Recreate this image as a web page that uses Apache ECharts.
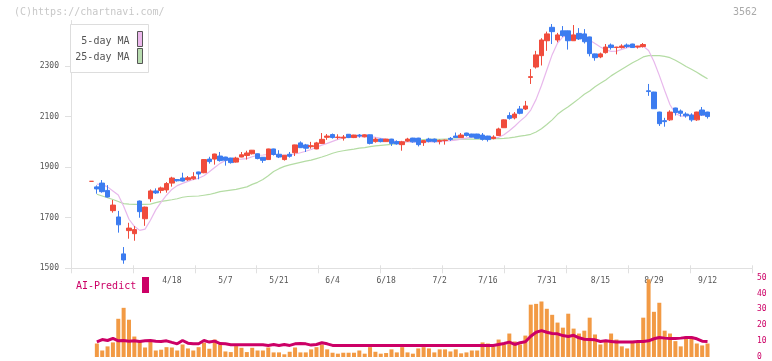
<!DOCTYPE html>
<html><head><meta charset="utf-8">
<script src="https://cdn.jsdelivr.net/npm/echarts@6/dist/echarts.min.js"></script>
<style>html,body{margin:0;padding:0;background:#fff}#c{width:772px;height:361px}</style>
</head><body><div id="c"></div>
<script>
const dates = ['3/28','3/29','4/1','4/2','4/3','4/4','4/5','4/8','4/9','4/10','4/11','4/12','4/15','4/16','4/17','4/18','4/19','4/22','4/23','4/24','4/25','4/26','4/30','5/1','5/2','5/7','5/8','5/9','5/10','5/13','5/14','5/15','5/16','5/17','5/20','5/21','5/22','5/23','5/24','5/27','5/28','5/29','5/30','5/31','6/3','6/4','6/5','6/6','6/7','6/10','6/11','6/12','6/13','6/14','6/17','6/18','6/19','6/20','6/21','6/24','6/25','6/26','6/27','6/28','7/1','7/2','7/3','7/4','7/5','7/8','7/9','7/10','7/11','7/12','7/16','7/17','7/18','7/19','7/22','7/23','7/24','7/25','7/26','7/29','7/30','7/31','8/1','8/2','8/5','8/6','8/7','8/8','8/9','8/13','8/14','8/15','8/16','8/19','8/20','8/21','8/22','8/23','8/26','8/27','8/28','8/29','8/30','9/2','9/3','9/4','9/5','9/6','9/9','9/10','9/11','9/12'];
const tickLabels = ['4/18','5/7','5/21','6/4','6/18','7/2','7/16','7/31','8/15','8/29','9/12'];
const openP = [1844,1822,1837,1808,1728,1703,1557,1649,1637,1766,1696,1775,1806,1808,1810,1837,1851,1857,1850,1854,1881,1878,1932,1932,1944,1940,1936,1920,1940,1946,1953,1953,1939,1930,1972,1951,1930,1951,1957,1996,1988,1981,1972,1994,2018,2029,2017,2015,2030,2017,2027,2020,2028,2001,2011,2001,2011,2001,1989,2003,2015,2015,1997,2011,2011,2002,2005,2014,2023,2017,2035,2031,2031,2027,2023,2013,2025,2056,2104,2095,2130,2130,2255,2296,2341,2400,2453,2403,2439,2439,2400,2429,2427,2415,2348,2336,2353,2383,2373,2373,2383,2387,2375,2377,2202,2197,2118,2084,2087,2134,2122,2110,2106,2087,2126,2118];
const closeP = [1844,1814,1803,1782,1750,1672,1533,1659,1653,1724,1742,1806,1798,1818,1835,1857,1846,1845,1858,1862,1873,1930,1922,1952,1926,1927,1918,1936,1949,1956,1967,1934,1927,1972,1950,1940,1947,1943,1988,1977,1975,1985,1996,2010,2023,2017,2019,2019,2017,2027,2023,2028,1994,2011,2001,2011,1994,1992,2000,2011,2000,1989,2005,2002,2001,2006,2007,2010,2017,2027,2025,2019,2014,2010,2009,2019,2051,2087,2093,2110,2113,2142,2258,2344,2403,2427,2436,2423,2420,2400,2423,2407,2396,2349,2333,2348,2375,2373,2375,2379,2377,2373,2379,2385,2199,2131,2072,2080,2118,2116,2113,2103,2087,2118,2106,2100];
const lowP = [1844,1795,1799,1780,1720,1641,1518,1617,1609,1700,1668,1763,1794,1797,1799,1823,1843,1843,1846,1850,1852,1876,1914,1910,1922,1906,1914,1918,1939,1930,1950,1931,1917,1929,1946,1936,1926,1938,1944,1976,1960,1973,1971,1992,2008,2013,2010,2005,2015,2015,2017,2018,1990,1997,1998,2000,1984,1989,1965,2000,1997,1982,1984,1998,1997,1990,1989,2004,2016,2016,2021,2018,2013,2005,2001,2010,2024,2055,2088,2089,2109,2126,2229,2290,2302,2360,2387,2394,2415,2365,2399,2403,2389,2338,2321,2331,2349,2365,2346,2369,2371,2372,2369,2373,2182,2131,2063,2060,2083,2104,2100,2096,2080,2083,2103,2092];
const highP = [1844,1828,1849,1829,1770,1727,1584,1680,1667,1768,1744,1812,1816,1823,1841,1862,1853,1878,1865,1880,1882,1932,1941,1953,1960,1941,1937,1941,1960,1965,1968,1954,1940,1973,1973,1967,1948,1960,1989,2002,1992,2000,2000,2035,2031,2033,2030,2027,2031,2028,2031,2030,2029,2017,2013,2012,2012,2006,2004,2016,2016,2016,2007,2016,2013,2009,2009,2019,2037,2035,2036,2032,2032,2035,2024,2026,2056,2089,2117,2118,2142,2162,2288,2360,2410,2436,2466,2431,2458,2440,2462,2450,2446,2416,2349,2353,2387,2389,2376,2386,2389,2388,2380,2391,2229,2198,2119,2095,2125,2135,2128,2117,2113,2119,2138,2119];
const ma5 = [null,1833,1831,1822,1806,1790,1745,1694,1666,1650,1655,1690,1731,1762,1789,1812,1827,1836,1844,1851,1856,1866,1882,1899,1915,1926,1930,1931,1932,1934,1941,1947,1948,1950,1952,1948,1947,1949,1952,1957,1963,1970,1979,1987,1994,2002,2010,2016,2019,2020,2021,2022,2021,2018,2014,2010,2006,2002,2001,2000,2000,1999,2000,2001,2000,2000,2003,2005,2007,2011,2015,2019,2020,2020,2017,2015,2018,2028,2044,2062,2082,2100,2126,2168,2223,2284,2345,2391,2415,2422,2421,2418,2412,2402,2389,2375,2364,2358,2359,2366,2373,2376,2376,2378,2361,2318,2263,2203,2147,2112,2102,2103,2107,2107,2106,2104];
const ma25 = [null,1793,1786,1779,1772,1764,1756,1754,1753,1753,1753,1754,1760,1765,1768,1771,1775,1781,1784,1785,1786,1789,1792,1797,1803,1806,1809,1812,1817,1822,1832,1840,1851,1866,1883,1894,1903,1909,1914,1919,1924,1928,1934,1940,1947,1955,1961,1965,1968,1971,1975,1977,1981,1984,1986,1988,1990,1994,1998,2002,2005,2007,2009,2010,2010,2010,2011,2011,2011,2011,2011,2011,2011,2011,2011,2013,2013,2014,2016,2019,2023,2026,2030,2039,2052,2069,2087,2109,2125,2139,2155,2171,2188,2201,2218,2232,2245,2261,2274,2287,2300,2313,2324,2336,2341,2341,2341,2338,2333,2323,2311,2298,2287,2275,2262,2250];
const volume = [null,8.5,4.1,6.7,9.2,24.1,31,23.5,12.9,10.4,6,9.6,4.1,4.6,6.2,6,4.1,7.9,5.4,4.1,6.2,9,5.2,11,7.9,3.5,3.1,6.9,5.8,3.1,5.8,4.1,4.1,6,2.9,2.9,1.7,3.3,6,2.9,2.9,4.8,6.2,7.9,4.8,2.7,2.1,2.7,2.7,2.7,4.1,2.1,6.2,3.3,2.1,2.5,4.8,2.9,6.2,2.9,2.1,5.4,6.2,5.4,2.9,4.8,4.8,3.5,4.8,2.3,2.9,4.1,4.1,9.2,8.5,6.7,11,7.9,14.8,9.8,7.9,13.5,33,33.5,35,30.4,26.6,21.7,18.5,27.3,17.9,14.8,16.6,24.8,14.2,7.9,10.4,14.8,11,6.7,5.4,10.2,9.2,24.8,49,28.5,34.2,16.6,14.8,10,6.7,12.9,12.9,8.5,7.3,8.5];
const aiPredict = [null,9.6,11,10.4,11.7,10.2,10.4,10,10.2,9.8,10.2,10.4,10,9.8,10.2,9.2,8.3,10.4,8.7,8.3,8.3,10.4,9.4,10,8.5,8.3,7.7,7.7,7.7,7.7,7.7,7.7,7.7,7.3,7.9,7.3,7.9,7.3,8.3,8.5,8.3,7.5,7.9,9,8.3,7.3,7.3,7.3,7.3,7.3,7.3,7.3,7.3,7.3,7.3,7.3,7.3,7.3,7.3,7.3,7.3,7.3,7.3,7.3,7.3,7.3,7.3,7.3,7.3,7.3,7.3,7.3,7.3,7.3,7.3,7.3,7.9,8.5,9.4,7.9,9,9.6,13.1,15.6,16.6,15.6,14.8,14.6,13.5,12.9,13.7,12.1,11.2,11,10.8,9.8,10.2,9.8,9.4,9.4,9.4,9.4,9.8,9.8,10.2,11.5,12.3,11.9,11.7,11.7,11.9,12.3,12.3,11.5,10,9.8];

const PADL = 3, PADR = 8;
const cats = [];
for (let i = 0; i < PADL; i++) cats.push('padL' + i);
dates.forEach(d => cats.push(d));
for (let i = 0; i < PADR; i++) cats.push('padR' + i);

const candleData = dates.map((d, j) => [j + PADL, openP[j], closeP[j], lowP[j], highP[j]]);
const pair = arr => arr.map((v, j) => [j + PADL, v == null ? '-' : v]);

const FONT = 'DejaVu Sans Mono';
const UP = '#f04c3c', DOWN = '#3c7cf0';
const AXC = '#e0e0e0';
const CRIMSON = '#cc0066';

const chart = echarts.init(document.getElementById('c'), null, {renderer: 'canvas'});
chart.setOption({
  animation: false,
  backgroundColor: '#fff',
  textStyle: {fontFamily: FONT},
  grid: [
    {left: 71, right: 20, top: 20.5, bottom: 92.7},
    {left: 72.75, width: 680.3, top: 20.5, bottom: 92.7},
    {left: 72.75, width: 680.3, top: 277.7, height: 80}
  ],
  xAxis: [
    {gridIndex: 0, type: 'value', min: 0, max: 11, interval: 1, position: 'bottom',
     axisLine: {show: true, onZero: false, lineStyle: {color: AXC}},
     axisTick: {show: true, length: 5, lineStyle: {color: AXC}},
     axisLabel: {show: false}, splitLine: {show: false}},
    {gridIndex: 0, type: 'value', min: 0, max: 11, interval: 1, position: 'bottom', offset: 0,
     axisLine: {show: false},
     axisTick: {show: true, inside: true, length: 3, lineStyle: {color: AXC}},
     axisLabel: {show: false}, splitLine: {show: false}},
    {gridIndex: 1, type: 'category', data: cats, boundaryGap: true, position: 'bottom',
     axisLine: {show: false}, axisTick: {show: false}, splitLine: {show: false},
     axisLabel: {show: true, margin: 9, color: '#555', fontSize: 8, fontFamily: FONT,
       interval: (idx, val) => tickLabels.indexOf(val) >= 0,
       formatter: v => tickLabels.indexOf(v) >= 0 ? v : ''}},
    {gridIndex: 2, type: 'category', data: cats, boundaryGap: true, show: false}
  ],
  yAxis: [
    {gridIndex: 0, type: 'value', min: 1500, max: 2480, interval: 200,
     axisLine: {show: true, onZero: false, lineStyle: {color: AXC}},
     axisTick: {show: true, length: 6, lineStyle: {color: AXC}},
     axisLabel: {color: '#555', fontSize: 8, fontFamily: FONT, margin: 12,
       showMaxLabel: false, formatter: v => String(v)},
     splitLine: {show: false}},
    {gridIndex: 1, type: 'value', min: 1500, max: 2480, show: false, splitLine: {show: false}},
    {gridIndex: 2, type: 'value', min: 0, max: 50, interval: 10, position: 'right',
     axisLine: {show: false}, axisTick: {show: false}, splitLine: {show: false},
     axisLabel: {color: CRIMSON, fontSize: 8, fontFamily: FONT, margin: 4, formatter: v => String(v)}}
  ],
  series: [
    {type: 'line', name: '25-day MA', xAxisIndex: 2, yAxisIndex: 1, data: pair(ma25),
     symbol: 'none', z: 1, lineStyle: {color: '#b4dca4', width: 1.2}},
    {type: 'line', name: '5-day MA', xAxisIndex: 2, yAxisIndex: 1, data: pair(ma5),
     symbol: 'none', z: 1, lineStyle: {color: '#e8b8ec', width: 1.2}},
    {type: 'candlestick', xAxisIndex: 2, yAxisIndex: 1, data: candleData,
     encode: {x: 0, y: [1, 2, 3, 4]}, barWidth: 5, z: 3,
     itemStyle: {color: UP, color0: DOWN, borderColor: UP, borderColor0: DOWN,
       borderColorDoji: UP, borderWidth: 1}},
    {type: 'bar', xAxisIndex: 3, yAxisIndex: 2, data: pair(volume), barWidth: 4,
     itemStyle: {color: '#f29a44'}, z: 2},
    {type: 'line', xAxisIndex: 3, yAxisIndex: 2, data: pair(aiPredict), symbol: 'none',
     z: 3, lineStyle: {color: CRIMSON, width: 3}}
  ],
  graphic: [
    {type: 'text', left: 14, top: 7, z: 10,
     style: {text: '(C)https://chartnavi.com/', fill: '#c8c8c8', font: '10px ' + FONT}},
    {type: 'text', right: 15, top: 7, z: 10,
     style: {text: '3562', fill: '#aaaaaa', font: '10px ' + FONT}},
    {type: 'rect', z: 10, shape: {x: 70.5, y: 24.5, width: 78, height: 48},
     style: {fill: '#fff', stroke: '#dddddd', lineWidth: 1}},
    {type: 'text', z: 11, x: 129.5, y: 41.7,
     style: {text: '5-day MA', fill: '#555', font: '10px ' + FONT, align: 'right', verticalAlign: 'middle'}},
    {type: 'text', z: 11, x: 129.5, y: 57.3,
     style: {text: '25-day MA', fill: '#555', font: '10px ' + FONT, align: 'right', verticalAlign: 'middle'}},
    {type: 'rect', z: 11, shape: {x: 137.5, y: 31.5, width: 5, height: 15},
     style: {fill: '#ecb8ec', stroke: '#555', lineWidth: 1}},
    {type: 'rect', z: 11, shape: {x: 137.5, y: 48.5, width: 5, height: 15},
     style: {fill: '#b8dcb0', stroke: '#555', lineWidth: 1}},
    {type: 'text', z: 11, x: 76, y: 286,
     style: {text: 'AI-Predict', fill: CRIMSON, font: '10px ' + FONT, verticalAlign: 'middle'}},
    {type: 'rect', z: 11, shape: {x: 142, y: 277, width: 7, height: 16},
     style: {fill: CRIMSON}}
  ]
});
</script></body></html>
